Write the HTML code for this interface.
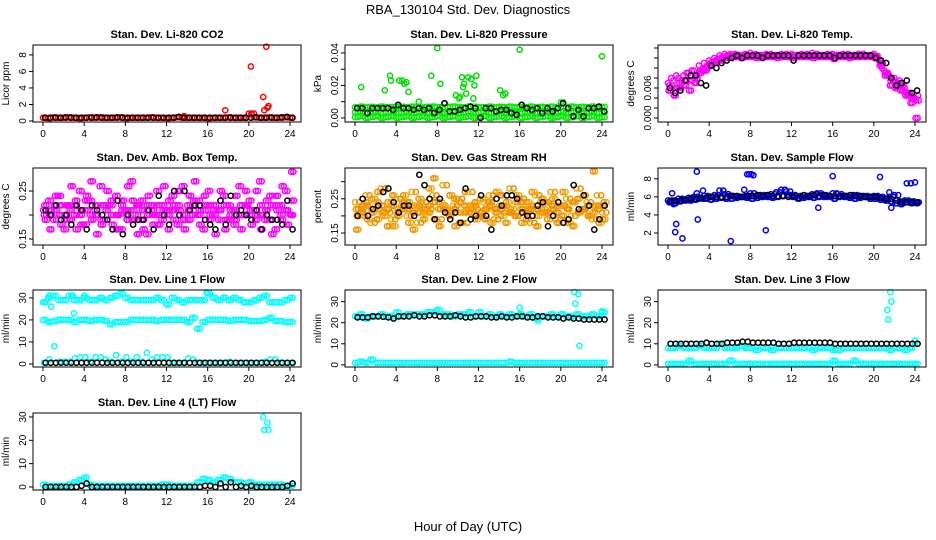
<!DOCTYPE html>
<html><head><meta charset="utf-8"><style>
body{margin:0;background:#fff;}
svg{display:block;font-family:"Liberation Sans",sans-serif;}
</style></head><body>
<svg id="chart" width="936" height="540" viewBox="0 0 936 540">
<rect width="936" height="540" fill="#fff"/>
<text x="468" y="14" text-anchor="middle" font-size="13">RBA_130104  Std. Dev. Diagnostics</text>
<text x="468" y="531" text-anchor="middle" font-size="13">Hour of Day (UTC)</text>
</svg>
<script>
const hours49=[0,0.5,1,1.5,2,2.5,3,3.5,4,4.5,5,5.5,6,6.5,7,7.5,8,8.5,9,9.5,10,10.5,11,11.5,12,12.5,13,13.5,14,14.5,15,15.5,16,16.5,17,17.5,18,18.5,19,19.5,20,20.5,21,21.5,22,22.5,23,23.5,24];
const xTicks=[0,4,8,12,16,20,24];

const co2Red=[0.4,0.35,0.45,0.4,0.4,0.45,0.4,0.35,0.4,0.45,0.4,0.45,0.4,0.4,0.4,0.45,0.35,0.4,0.4,0.4,0.4,0.45,0.4,0.4,0.35,0.4,0.45,0.4,0.4,0.4,0.4,0.4,0.35,0.4,0.4,0.4,0.45,0.4,0.4,0.4,0.9,0.45,0.4,0.4,0.45,0.4,0.4,0.45,0.4];
const co2Black=[0.4,0.4,0.4,0.4,0.45,0.4,0.4,0.4,0.4,0.4,0.45,0.4,0.4,0.4,0.45,0.4,0.4,0.4,0.4,0.4,0.4,0.4,0.4,0.4,0.4,0.4,0.5,0.4,0.4,0.4,0.4,0.4,0.4,0.4,0.4,0.4,0.4,0.4,0.4,0.4,0.4,0.45,0.4,0.4,0.4,0.4,0.45,0.5,0.4];
const co2OutH=[13.7,17.7,20.2,20.3,20.5,21.4,21.5,21.7,21.8,21.9];
const co2OutV=[0.6,1.3,6.6,0.8,0.9,2.9,1.3,9.0,1.6,1.8];

const presBlack=[0.006,0.006,0.003,0.006,0.006,0.006,0.006,0.005,0.008,0.006,0.006,0.005,0.006,0.005,0.006,0.003,0.005,0.009,0.004,0.004,0.005,0.006,0.007,0.006,0.0,0.006,0.006,0.004,0.005,0.005,0.003,0.002,0.008,0.006,0.005,0.006,0.003,0.006,0.004,0.006,0.009,0.006,0.001,0.005,0.001,0.006,0.006,0.007,0.004];
const presGreenA=[0.0065,0.007,0.0065,0.0068,0.0065,0.007,0.0066,0.0065,0.007,0.0068,0.0065,0.007,0.0066,0.0065,0.0068,0.007,0.0066,0.0065,0.0068,0.007,0.0066,0.0065,0.007,0.0068,0.0065,0.0066,0.007,0.0065,0.0068,0.0066,0.007,0.0065,0.0068,0.0066,0.007,0.0065,0.0068,0.0066,0.007,0.0065,0.0095,0.0066,0.007,0.0065,0.0068,0.0066,0.007,0.0065,0.0068];
const presGreenB=[0.0035,0.004,0.003,0.0035,0.004,0.003,0.0035,0.004,0.003,0.0035,0.004,0.003,0.0035,0.004,0.003,0.0035,0.004,0.003,0.0035,0.004,0.003,0.0035,0.004,0.003,0.0035,0.004,0.003,0.0035,0.004,0.003,0.0035,0.004,0.003,0.0035,0.004,0.003,0.0035,0.004,0.003,0.0035,0.004,0.003,0.0035,0.004,0.003,0.0035,0.004,0.003,0.0035];
const presGreenC=[0.0005,0.001,0.0,0.0005,0.001,0.0,0.0005,0.001,0.0,0.0005,0.001,0.0,0.0005,0.001,0.0,0.0005,0.001,0.0,0.0005,0.001,0.0,0.0005,0.001,0.0,0.0005,0.001,0.0,0.0005,0.001,0.0,0.0005,0.001,0.0,0.0005,0.001,0.0,0.0005,0.001,0.0,0.0005,0.001,0.0,0.0005,0.001,0.0,0.0005,0.001,0.0,0.0005];
const presOutH=[0.6,2.9,3.4,3.5,4.3,4.6,4.8,5.0,5.2,6.2,7.4,8.0,8.3,8.7,9.8,10.1,10.2,10.4,10.5,10.6,10.8,11.0,11.3,11.5,11.6,11.8,14.1,14.4,14.6,16.0,24.0];
const presOutV=[0.019,0.017,0.026,0.023,0.023,0.023,0.021,0.022,0.016,0.010,0.026,0.043,0.021,0.009,0.014,0.012,0.013,0.025,0.019,0.021,0.015,0.025,0.024,0.012,0.020,0.026,0.017,0.014,0.015,0.042,0.038];

const tempBlack=[0.006,0.005,0.0055,0.0075,0.0085,0.0085,0.0070,0.0065,0.0105,0.0100,0.0110,0.0115,0.0120,0.0125,0.0120,0.0125,0.0125,0.0125,0.0120,0.0125,0.0125,0.0125,0.0125,0.0125,0.0115,0.0125,0.0125,0.0125,0.0125,0.0125,0.0125,0.0125,0.0120,0.0125,0.0125,0.0125,0.0125,0.0125,0.0125,0.0125,0.0120,0.0115,0.0110,0.0080,0.0065,0.0070,0.0075,0.0050,0.0055];
const tempMag1=[0.007,0.0075,0.008,0.0085,0.009,0.0095,0.0105,0.011,0.0115,0.012,0.0125,0.0128,0.0128,0.0128,0.0126,0.0128,0.013,0.0128,0.0126,0.0128,0.0128,0.0126,0.0128,0.0128,0.0128,0.0126,0.0128,0.0128,0.013,0.0128,0.0126,0.0128,0.0128,0.0126,0.0128,0.0128,0.0126,0.0128,0.0128,0.0126,0.0128,0.0115,0.0095,0.0085,0.0080,0.0075,0.0060,0.0050,0.0040];
const tempMag2=[0.0055,0.0045,0.006,0.0065,0.0055,0.007,0.009,0.0095,0.0105,0.011,0.0115,0.012,0.0122,0.0122,0.012,0.0122,0.0122,0.012,0.0122,0.0122,0.0122,0.012,0.0122,0.0122,0.012,0.0122,0.0122,0.0122,0.012,0.0122,0.0122,0.0122,0.0118,0.0122,0.0122,0.012,0.0122,0.0122,0.0122,0.0122,0.012,0.0105,0.0085,0.0065,0.0060,0.0055,0.0045,0.0030,0.0];
const tempMag3=[0.0065,0.006,0.007,0.0075,0.0075,0.008,0.0095,0.010,0.011,0.0115,0.012,0.0124,0.0125,0.0125,0.0124,0.0125,0.0125,0.0124,0.0125,0.0125,0.0124,0.0125,0.0125,0.0124,0.0125,0.0125,0.0124,0.0125,0.0125,0.0124,0.0125,0.0125,0.0124,0.0125,0.0125,0.0124,0.0125,0.0125,0.0124,0.0125,0.0124,0.011,0.009,0.0075,0.007,0.0065,0.005,0.004,0.0035];
const tempMag4=[0.008,0.0085,0.0075,0.009,0.0095,0.0085,0.0098,0.0105,0.0112,0.0118,0.0122,0.0125,0.0124,0.0126,0.0125,0.0124,0.0126,0.0125,0.0124,0.0126,0.0125,0.0124,0.0126,0.0125,0.0124,0.0126,0.0125,0.0124,0.0126,0.0125,0.0124,0.0126,0.0125,0.0124,0.0126,0.0125,0.0124,0.0126,0.0125,0.0124,0.0122,0.010,0.0088,0.0078,0.0068,0.0058,0.0048,0.0038,0.0045];

const ambMag1=[0.21,0.23,0.19,0.24,0.17,0.22,0.20,0.25,0.18,0.23,0.21,0.26,0.19,0.22,0.24,0.17,0.21,0.27,0.20,0.23,0.16,0.22,0.25,0.19,0.21,0.24,0.18,0.26,0.22,0.20,0.23,0.17,0.25,0.21,0.19,0.24,0.22,0.18,0.26,0.20,0.23,0.21,0.27,0.19,0.24,0.17,0.22,0.25,0.20];
const ambMag2=[0.19,0.20,0.24,0.18,0.22,0.26,0.17,0.21,0.24,0.19,0.16,0.22,0.25,0.18,0.20,0.23,0.26,0.19,0.22,0.17,0.24,0.20,0.18,0.26,0.23,0.19,0.21,0.17,0.24,0.27,0.18,0.22,0.20,0.16,0.25,0.19,0.21,0.24,0.17,0.22,0.18,0.25,0.20,0.23,0.16,0.21,0.26,0.18,0.23];
const ambMag3=[0.22,0.17,0.21,0.22,0.20,0.19,0.23,0.18,0.21,0.27,0.20,0.18,0.22,0.20,0.17,0.21,0.19,0.23,0.16,0.21,0.20,0.18,0.22,0.21,0.17,0.22,0.25,0.20,0.19,0.22,0.21,0.24,0.19,0.22,0.21,0.17,0.20,0.19,0.22,0.25,0.20,0.19,0.17,0.21,0.22,0.24,0.19,0.21,0.29];
const ambMag4=[0.20,0.21,0.22,0.20,0.19,0.21,0.22,0.20,0.23,0.20,0.22,0.19,0.21,0.23,0.20,0.22,0.20,0.21,0.22,0.19,0.22,0.21,0.20,0.22,0.20,0.21,0.22,0.19,0.21,0.23,0.20,0.21,0.22,0.20,0.21,0.22,0.19,0.21,0.20,0.22,0.21,0.20,0.22,0.21,0.19,0.22,0.20,0.21,0.20];
const ambBlack=[0.21,0.20,0.22,0.19,0.20,0.18,0.22,0.21,0.17,0.22,0.21,0.20,0.19,0.17,0.23,0.16,0.20,0.18,0.19,0.19,0.21,0.17,0.24,0.20,0.18,0.25,0.20,0.25,0.21,0.22,0.22,0.19,0.18,0.17,0.23,0.18,0.24,0.20,0.21,0.20,0.19,0.21,0.17,0.20,0.19,0.19,0.18,0.23,0.17];

const rhOr1=[0.24,0.20,0.26,0.18,0.22,0.28,0.21,0.19,0.25,0.23,0.20,0.27,0.18,0.24,0.22,0.26,0.19,0.29,0.21,0.23,0.25,0.18,0.27,0.22,0.20,0.24,0.26,0.19,0.23,0.21,0.28,0.20,0.25,0.22,0.18,0.26,0.24,0.21,0.27,0.19,0.23,0.25,0.20,0.28,0.22,0.24,0.19,0.26,0.21];
const rhOr2=[0.20,0.23,0.19,0.25,0.27,0.20,0.24,0.17,0.22,0.26,0.18,0.23,0.25,0.21,0.28,0.19,0.24,0.22,0.26,0.17,0.21,0.27,0.23,0.19,0.25,0.22,0.18,0.27,0.20,0.24,0.22,0.26,0.18,0.24,0.27,0.20,0.22,0.19,0.25,0.23,0.27,0.18,0.24,0.21,0.26,0.20,0.23,0.18,0.24];
const rhOr3=[0.16,0.22,0.24,0.21,0.19,0.23,0.17,0.26,0.20,0.22,0.24,0.16,0.21,0.19,0.23,0.31,0.17,0.22,0.20,0.25,0.18,0.23,0.21,0.24,0.20,0.19,0.23,0.22,0.26,0.18,0.21,0.20,0.24,0.19,0.22,0.17,0.25,0.21,0.23,0.18,0.20,0.22,0.17,0.25,0.22,0.20,0.33,0.23,0.19];
const rhOr4=[0.22,0.21,0.23,0.22,0.24,0.21,0.22,0.23,0.21,0.24,0.22,0.21,0.23,0.22,0.21,0.24,0.22,0.23,0.21,0.22,0.24,0.21,0.22,0.23,0.21,0.22,0.24,0.21,0.22,0.23,0.21,0.24,0.22,0.21,0.23,0.22,0.21,0.24,0.22,0.21,0.23,0.22,0.24,0.21,0.22,0.23,0.21,0.22,0.23];
const rhBlack=[0.20,0.25,0.20,0.22,0.23,0.27,0.28,0.24,0.21,0.23,0.23,0.20,0.32,0.29,0.25,0.19,0.25,0.21,0.19,0.21,0.18,0.28,0.19,0.20,0.26,0.20,0.16,0.25,0.23,0.26,0.26,0.25,0.21,0.20,0.20,0.23,0.24,0.17,0.20,0.24,0.18,0.19,0.29,0.22,0.26,0.23,0.16,0.19,0.23];

const sfBlue1=[5.6,5.5,5.8,5.7,5.9,6.0,5.8,6.1,6.0,6.2,6.7,6.3,6.1,6.0,6.0,6.1,6.4,6.1,6.2,6.1,6.3,6.5,6.8,6.6,6.2,6.1,6.0,6.1,6.3,6.4,6.2,6.0,6.4,6.3,6.1,6.0,6.2,6.0,6.1,6.0,6.1,6.0,5.8,6.0,6.2,5.5,5.6,5.5,5.4];
const sfBlue2=[5.4,5.3,5.5,5.6,5.6,5.7,5.9,5.8,5.7,5.8,5.9,5.8,5.8,5.9,6.0,5.9,5.8,5.9,6.0,6.0,5.9,6.0,6.1,6.2,6.0,5.8,5.9,6.0,5.9,6.0,6.0,6.1,5.8,6.0,6.0,5.9,5.8,5.9,6.0,5.8,5.8,5.7,5.6,5.5,5.3,5.2,5.4,5.3,5.3];
const sfBlack=[5.5,5.6,5.6,5.7,5.8,5.8,5.9,5.9,6.0,6.0,6.0,6.0,6.1,6.1,6.0,6.1,6.1,6.2,6.1,6.2,6.1,6.1,6.1,6.0,6.1,5.9,6.2,6.1,6.2,6.1,6.2,6.1,6.1,6.1,6.1,6.2,6.1,6.1,6.0,6.0,6.0,5.9,5.8,5.8,5.6,5.4,5.4,5.4,5.4];
const sfOutH=[0.4,0.55,0.7,0.8,1.4,2.8,2.8,2.9,3.4,6.1,7.4,7.7,7.9,8.1,8.3,9.5,14.6,16.0,20.6,21.5,21.7,23.2,23.6,24.0];
const sfOutV=[6.4,5.2,2.1,3.0,1.4,6.4,8.8,3.5,6.7,1.1,6.8,8.5,8.5,8.5,8.4,2.3,4.8,8.3,8.2,6.5,4.8,7.5,7.5,7.6];

const l1CyanA=[28,30,31,29,29,31,29,29,30,29,29,30,29,30,31,32,30,29,29,29,29,29,30,29,27,30,29,28,29,29,29,29,32,30,29,30,29,30,29,28,28,29,30,31,28,28,28,29,30];
const l1CyanB=[20,19,19.5,20,20,20,19,20,20,19.5,20,20,19.5,18,19,19,19,20,20,20,20,20,19.5,20,20,20,20,20,19,21,16,19,20,20,20,20,19.5,20,20,20,19.5,19.5,19.5,20,21,19.5,19.5,19,19];
const l1CyanC=[0.5,2,8,1,1,1,2.5,3,3,1,3,3,2,1,4,1,3,1,3,1,5,2,3,3,3,0.5,0.5,0.5,2.5,2,0.5,0.5,0.5,0.5,0.5,0.5,1,0.5,0.5,0.5,0.5,0.5,0.5,1,2,2,0.5,0.5,0.5];
const l1Black=[0.5,0.5,0.5,0.5,0.5,0.5,0.5,0.5,0.5,0.5,0.5,0.5,0.5,0.5,0.5,0.5,0.5,0.5,0.5,0.5,0.5,0.5,0.5,0.5,0.5,0.5,0.5,0.5,0.5,0.5,0.5,0.5,0.5,0.5,0.5,0.5,0.5,0.5,0.5,0.5,0.5,0.5,0.5,0.5,0.5,0.5,0.5,0.5,0.5];
const l1OutH=[0.2,0.6,0.8,2.9,3.0,4.0,15.0,15.9];
const l1OutV=[28,31,26,31,23,31,16,32.5];

const l2CyanA=[23,24,22,23,23,24,23,23,25,23,24,24,24,24,25,25,26,24,24,23,24,24,25,23,25,23,24,23,24,23,24,23,24,23,24,22,23,23,24,23,24,23,23,24,23,23,24,23,25];
const l2CyanB=[1,1.5,1,2.5,1,1,1,1,1,1,1,1,1,1,1,1,1,1,1,1,1,1,1,1,1,1,1,1,1,1,1.5,1,1,1,1,1,1,1,1,1,1,1,1,1,1,1,1,1,1];
const l2Black=[22.5,22.5,22.5,23,23,22.8,22.5,22,23,23,23,23.5,23,23,23.5,23.5,23,23,23,23.5,23,22.5,22.5,23,23,23,22.5,22.5,23,22.5,22.5,23,23,22.5,22.5,23,23,22.5,22.5,22.5,22,22.5,22,22,21.5,21.5,21.5,21.5,21.5];
const l2OutH=[8,16,17.8,21.3,21.4,21.7,21.8,24];
const l2OutV=[26,27,21,34.5,29,33.5,9,25.5];

const l3CyanA=[8,8,9,8,8,8,9,8,8,8,10,8,8,8,9,8,8,7,8,8,7,8,8,8,8,8,8,8,7,8,8,8,7,7,8,8,8,8,8,8,8,8,8,7,8,8,7,8,10];
const l3CyanB=[0.5,0.5,0.5,0.5,2,0.5,0.5,0.5,0.5,0.5,0.5,0.5,2,0.5,0.5,0.5,0.5,0.5,0.5,0.5,0.5,0.5,0.5,0.5,0.5,0.5,0.5,0.5,0.5,0.5,0.5,0.5,2,0.5,0.5,0.5,2,0.5,0.5,0.5,0.5,0.5,0.5,0.5,0.5,0.5,0.5,0.5,0.5];
const l3Black=[10,10,10,10,10,10,10,10.5,10,10,10,10.5,10.5,10.5,11,11,10.5,10.5,10.5,10.5,10.5,10,10,10,10.5,10.5,10.5,10.5,10.5,10.5,10.5,10.5,10,10,10,10,10,10,10,10,10,10,10,10,10,10,10,10,10];
const l3OutH=[21.3,21.4,21.6,21.7,24];
const l3OutV=[26,21.5,34.5,30,11.5];

const l4Cyan=[1,0.5,0.5,0.5,0.5,1,2,3,4,1,0.5,0.5,0.5,0.5,0.5,0.5,0.5,0.5,0.5,0.5,0.5,0.5,0.5,1,1,0.5,0.5,0.5,0.5,0.5,2,3.5,3,2,3,4,3.5,2,2,1.5,2,1,1,1,1,1,1,0.5,0.5];
const l4Black=[0,0,0,0,0,0,0,0.5,1.5,0,0,0,0,0,0,0,0,0,0,0,0,0,0,0,0,0,0,0,0,0,0,0.5,0.5,0,1.5,0,2,0,0.5,0,0.5,0,0,0,0,0,0,0.5,1.5];
const l4OutH=[21.4,21.5,21.8,21.9];
const l4OutV=[30,24.5,27.5,24.5];

const NS='http://www.w3.org/2000/svg';
const svg=document.getElementById('chart');
function mk(tag,attrs,parent){const e=document.createElementNS(NS,tag);for(const k in attrs)e.setAttribute(k,attrs[k]);(parent||svg).appendChild(e);return e;}
const colL=[33,345,658],rowT=[45,168,290,413],W=268,H=77;
const MAG='#ff00ff',CY='#00ffff';

function panel(col,row,name,title,ylabel,lo,hi,yticks,ylabs,series){
  const L=colL[col],T=rowT[row];
  const g=mk('g',{});
  
  
  const xs=h=>L+10+h*247/24;
  const ys=v=>T+(hi-v)/(hi-lo)*H;
  const t=mk('text',{x:L+W/2,y:T-7,'text-anchor':'middle','font-size':'11','font-weight':'bold'},g);
  t.textContent=title;
  
  
  const yl=mk('text',{x:0,y:0,'text-anchor':'middle','font-size':'10',transform:`translate(${L-24},${T+H/2}) rotate(-90)`},g);
  yl.textContent=ylabel;
  
  
  const pts=mk('g',{fill:'none','stroke-width':'1.5'},g);
  
  
  series.forEach(s=>{
    s.v.forEach((v,i)=>{
      const c=mk('circle',{cx:xs(s.h[i]+(s.off||0)).toFixed(1),cy:ys(v).toFixed(1),r:'2.6',stroke:s.c},pts);
      
      
    });
  });
  const box=mk('rect',{x:L,y:T,width:W,height:H,fill:'none',stroke:'#000','stroke-width':'1'},g);
  
  
  xTicks.forEach(h=>{
    mk('line',{x1:xs(h),x2:xs(h),y1:T+H,y2:T+H+4,stroke:'#000'},g);
    const tx=mk('text',{x:xs(h),y:T+H+15,'text-anchor':'middle','font-size':'10'},g);
    tx.textContent=h;
    
    
  });
  yticks.forEach((v,i)=>{
    mk('line',{x1:L,x2:L-4,y1:ys(v),y2:ys(v),stroke:'#000'},g);
    if(ylabs[i]!==''){
      const ty=mk('text',{x:0,y:0,'text-anchor':'middle','font-size':'10',transform:`translate(${L-7},${ys(v)}) rotate(-90)`},g);
      ty.textContent=ylabs[i];
      
      
    }
  });
}

panel(0,0,'co2','Stan. Dev. Li-820 CO2','Licor ppm',-0.12,9.2,[0,2,4,6,8],['0','2','4','6','8'],[
 {h:hours49,v:co2Red,c:'#ff0000',n:'co2-minute'},
 {h:hours49,v:co2Red,c:'#ff0000',off:0.25,n:'co2-minute'},
 {h:co2OutH,v:co2OutV,c:'#ff0000',n:'co2-outlier'},
 {h:hours49,v:co2Black,c:'#000',off:0.2,n:'co2-mean'}]);
panel(1,0,'pressure','Stan. Dev. Li-820 Pressure','kPa',-0.0025,0.0449,[0,0.01,0.02,0.03,0.04],['0.00','','0.02','','0.04'],[
 {h:hours49,v:presGreenA,c:'#00ee00',n:'pressure-minute'},
 {h:hours49,v:presGreenA,c:'#00ee00',off:0.25,n:'pressure-minute'},
 {h:hours49,v:presGreenB,c:'#00ee00',n:'pressure-minute'},
 {h:hours49,v:presGreenB,c:'#00ee00',off:0.25,n:'pressure-minute'},
 {h:hours49,v:presGreenC,c:'#00ee00',n:'pressure-minute'},
 {h:hours49,v:presGreenC,c:'#00ee00',off:0.25,n:'pressure-minute'},
 {h:presOutH,v:presOutV,c:'#00dd00',n:'pressure-outlier'},
 {h:hours49,v:presBlack,c:'#000',off:0.2,n:'pressure-mean'}]);
panel(2,0,'temp','Stan. Dev. Li-820 Temp.','degrees C',-0.0008,0.0146,[0,0.002,0.004,0.006,0.008,0.010,0.012,0.014],['0.000','','','0.006','','','',''],[
 {h:hours49,v:tempMag1,c:MAG,n:'temp-minute'},
 {h:hours49,v:tempMag2,c:MAG,off:0.25,n:'temp-minute'},
 {h:hours49,v:tempMag3,c:MAG,off:0.12,n:'temp-minute'},
 {h:hours49,v:tempMag3,c:MAG,off:0.37,n:'temp-minute'},
 {h:hours49,v:tempMag4,c:MAG,off:0.3,n:'temp-minute'},
 {h:hours49,v:tempMag2,c:MAG,off:0.06,n:'temp-minute'},
 {h:hours49,v:tempBlack,c:'#000',off:0.2,n:'temp-mean'}]);
panel(0,1,'amb-box','Stan. Dev. Amb. Box Temp.','degrees C',0.1375,0.298,[0.15,0.20,0.25],['0.15','','0.25'],[
 {h:hours49,v:ambMag1,c:MAG,n:'amb-minute'},
 {h:hours49,v:ambMag2,c:MAG,off:0.17,n:'amb-minute'},
 {h:hours49,v:ambMag3,c:MAG,off:0.33,n:'amb-minute'},
 {h:hours49,v:ambMag2,c:MAG,off:0.4,n:'amb-minute'},
 {h:hours49,v:ambMag4,c:MAG,off:0.08,n:'amb-minute'},
 {h:hours49,v:ambMag4,c:MAG,off:0.3,n:'amb-minute'},
 {h:hours49,v:ambMag3,c:MAG,off:0.12,n:'amb-minute'},
 {h:hours49,v:ambMag1,c:MAG,off:0.25,n:'amb-minute'},
 {h:hours49,v:ambBlack,c:'#000',off:0.25,n:'amb-mean'}]);
panel(1,1,'rh','Stan. Dev. Gas Stream RH','percent',0.115,0.34,[0.15,0.20,0.25,0.30],['0.15','','0.25',''],[
 {h:hours49,v:rhOr1,c:'#f5a800',n:'rh-minute'},
 {h:hours49,v:rhOr2,c:'#f08c00',off:0.17,n:'rh-minute'},
 {h:hours49,v:rhOr3,c:'#f5a800',off:0.33,n:'rh-minute'},
 {h:hours49,v:rhOr1,c:'#f08c00',off:0.42,n:'rh-minute'},
 {h:hours49,v:rhOr4,c:'#f5a800',off:0.08,n:'rh-minute'},
 {h:hours49,v:rhOr4,c:'#f08c00',off:0.28,n:'rh-minute'},
 {h:hours49,v:rhOr2,c:'#f5a800',off:0.45,n:'rh-minute'},
 {h:hours49,v:rhOr3,c:'#f08c00',off:0.12,n:'rh-minute'},
 {h:hours49,v:rhBlack,c:'#000',off:0.25,n:'rh-mean'}]);
panel(2,1,'sample-flow','Stan. Dev. Sample Flow','ml/min',0.67,9.2,[2,4,6,8],['2','4','6','8'],[
 {h:hours49,v:sfBlue1,c:'#0000ff',n:'sample-minute'},
 {h:hours49,v:sfBlue2,c:'#0000ff',off:0.25,n:'sample-minute'},
 {h:hours49,v:sfBlue2,c:'#0000ff',off:0.12,n:'sample-minute'},
 {h:hours49,v:sfBlue1,c:'#0000ff',off:0.37,n:'sample-minute'},
 {h:sfOutH,v:sfOutV,c:'#0000ff',n:'sample-outlier'},
 {h:hours49,v:sfBlack,c:'#000',off:0.2,n:'sample-mean'}]);
panel(0,2,'line1','Stan. Dev. Line 1 Flow','ml/min',-1.4,33.6,[0,10,20,30],['0','10','20','30'],[
 {h:hours49,v:l1CyanA,c:CY,n:'line1-minute'},
 {h:hours49,v:l1CyanA,c:CY,off:0.25,n:'line1-minute'},
 {h:hours49,v:l1CyanB,c:CY,n:'line1-minute'},
 {h:hours49,v:l1CyanB,c:CY,off:0.25,n:'line1-minute'},
 {h:hours49,v:l1CyanC,c:CY,off:0.1,n:'line1-minute'},
 {h:l1OutH,v:l1OutV,c:CY,n:'line1-outlier'},
 {h:hours49,v:l1Black,c:'#000',off:0.25,n:'line1-mean'}]);
panel(1,2,'line2','Stan. Dev. Line 2 Flow','ml/min',-1.0,35.5,[0,10,20,30],['0','10','20','30'],[
 {h:hours49,v:l2CyanA,c:CY,n:'line2-minute'},
 {h:hours49,v:l2CyanA,c:CY,off:0.25,n:'line2-minute'},
 {h:hours49,v:l2CyanB,c:CY,n:'line2-minute'},
 {h:hours49,v:l2CyanB,c:CY,off:0.25,n:'line2-minute'},
 {h:l2OutH,v:l2OutV,c:CY,n:'line2-outlier'},
 {h:hours49,v:l2Black,c:'#000',off:0.25,n:'line2-mean'}]);
panel(2,2,'line3','Stan. Dev. Line 3 Flow','ml/min',-1.0,35.5,[0,10,20,30],['0','10','20','30'],[
 {h:hours49,v:l3CyanA,c:CY,n:'line3-minute'},
 {h:hours49,v:l3CyanA,c:CY,off:0.25,n:'line3-minute'},
 {h:hours49,v:l3CyanB,c:CY,n:'line3-minute'},
 {h:hours49,v:l3CyanB,c:CY,off:0.25,n:'line3-minute'},
 {h:l3OutH,v:l3OutV,c:CY,n:'line3-outlier'},
 {h:hours49,v:l3Black,c:'#000',off:0.25,n:'line3-mean'}]);
panel(0,3,'line4','Stan. Dev. Line 4 (LT) Flow','ml/min',-1.3,31.7,[0,10,20,30],['0','10','20','30'],[
 {h:hours49,v:l4Cyan,c:CY,n:'line4-minute'},
 {h:hours49,v:l4Cyan,c:CY,off:0.25,n:'line4-minute'},
 {h:l4OutH,v:l4OutV,c:CY,n:'line4-outlier'},
 {h:hours49,v:l4Black,c:'#000',off:0.25,n:'line4-mean'}]);
</script>
</body></html>
